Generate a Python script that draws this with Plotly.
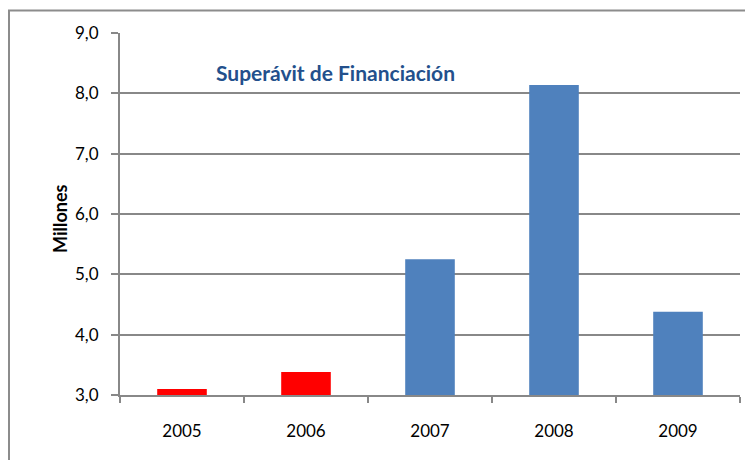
import plotly.graph_objects as go

years = ["2005", "2006", "2007", "2008", "2009"]
values = [3.10, 3.38, 5.25, 8.14, 4.38]
colors = ["#FF0000", "#FF0000", "#4F81BD", "#4F81BD", "#4F81BD"]
y_ticks = [3, 4, 5, 6, 7, 8, 9]
y_labels = ["3,0", "4,0", "5,0", "6,0", "7,0", "8,0", "9,0"]
baseline = 3

# page body has an 8px margin, so figure origin sits at (8, 8) in the window
OFF = 8
W, H = 753 - OFF, 460 - OFF
L, T = 120 - OFF, 33 - OFF
pw, ph = 620, 362
R, B = W - L - pw, H - T - ph

fig = go.Figure()
fig.add_trace(go.Bar(x=years, y=[v - baseline for v in values], base=baseline,
                     marker=dict(color=colors, line=dict(width=0)), showlegend=False))

fig.update_layout(
    width=W, height=H,
    margin=dict(l=L, r=R, t=T, b=B),
    paper_bgcolor="white", plot_bgcolor="white",
    font=dict(family="Lato, Open Sans, sans-serif", size=17, color="black"),
    bargap=0.6,
)
fig.update_xaxes(
    type="category", showline=True, linecolor="#888888", linewidth=2,
    ticks="outside", tickson="boundaries", ticklen=6, tickcolor="#888888", tickwidth=1.5,
    showgrid=False, tickfont=dict(size=17), ticklabelstandoff=20,
)
fig.update_yaxes(
    range=[3, 9], tickvals=y_ticks, ticktext=y_labels,
    showline=True, linecolor="#888888", linewidth=2,
    ticks="outside", ticklen=7, tickcolor="#888888", tickwidth=1.5,
    showgrid=True, gridcolor="#888888", gridwidth=1.8, zeroline=False,
    tickfont=dict(size=17), ticklabelstandoff=9,
)

def px_x(x):
    return (x - OFF - L) / pw

def px_y(y):
    return 1 - (y - OFF - T) / ph

fig.add_annotation(text="<b>Superávit de Financiación</b>", x=px_x(335), y=px_y(73),
                   xref="paper", yref="paper", xanchor="center", yanchor="middle",
                   showarrow=False,
                   font=dict(size=21, color="#23508C", family="Lato, Open Sans, sans-serif"))
fig.add_annotation(text="<b>Millones</b>", x=px_x(60), y=px_y(219),
                   xref="paper", yref="paper", xanchor="center", yanchor="middle",
                   showarrow=False, textangle=-90,
                   font=dict(size=18, color="black", family="Lato, Open Sans, sans-serif"))

# outer chart border (top and left visible)
fig.add_shape(type="line", xref="paper", yref="paper",
              x0=px_x(8), x1=px_x(760), y0=px_y(10.5), y1=px_y(10.5),
              line=dict(color="#8c8c8c", width=2))
fig.add_shape(type="line", xref="paper", yref="paper",
              x0=px_x(9), x1=px_x(9), y0=px_y(10.5), y1=px_y(470),
              line=dict(color="#8c8c8c", width=2))

fig.write_html("out.html")
